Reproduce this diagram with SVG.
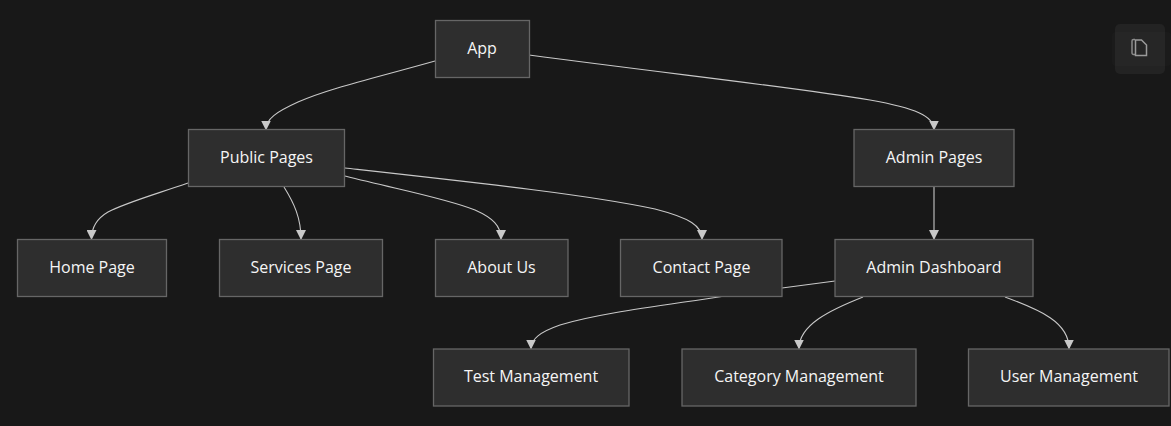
<svg xmlns="http://www.w3.org/2000/svg" width="1171" height="426" viewBox="0 0 1171 426">
<style>
.bg{fill:#181818}
.n rect{fill:#2e2e2e;stroke:#666;stroke-width:1.3}
.n text{fill:#f5f5f5;font-family:"Open Sans","Noto Sans","Liberation Sans",sans-serif;font-size:16px;text-anchor:middle}
#connectors path{fill:none;stroke:#c8c8c8;stroke-width:1.1}
#connectors path.a{marker-end:url(#ah)}
</style>
<defs><marker id="ah" viewBox="0 0 10 10" refX="9" refY="5" markerWidth="10" markerHeight="10" markerUnits="userSpaceOnUse" orient="auto"><path d="M0 0L10 5L0 10Z" fill="#c8c8c8"/></marker></defs>
<rect class="bg" width="1171" height="426"/>
<g id="connectors">
<path class="a" d="M435 61C375 78 330 88 298 102C276 112 266 119 266 129.500"/>
<path class="a" d="M529 55C680 75 800 88 870 100C915 108 934 116 934 129.500"/>
<path class="a" d="M188 183C150 196 125 203 108 212C96 219 91.500 228 91.500 239"/>
<path class="a" d="M284 187C294 203 301 218 301 239"/>
<path class="a" d="M345 176C400 190 445 198 475 210C493 218 501 226 501 239"/>
<path class="a" d="M345 168C480 183 590 195 655 209C690 218 702 226 702 239"/>
<path class="a" d="M934 187V239"/>
<path d="M835 281L782 288"/>
<path class="a" d="M725 296C660 306 600 313 560 325C540 332 531 339 531 348.500"/>
<path class="a" d="M863 297C830 310 799 325 799 348.500"/>
<path class="a" d="M1005 297C1040 310 1069 322 1069 348.500"/>
</g>
<g id="app" class="n"><rect x="435.500" y="20.500" width="94" height="57"/><text x="482" y="54">App</text></g>
<g id="public" class="n"><rect x="188.500" y="129.500" width="156" height="57"/><text x="266.500" y="163">Public Pages</text></g>
<g id="admin" class="n"><rect x="854" y="129.500" width="160" height="57"/><text x="934" y="163">Admin Pages</text></g>
<g id="home" class="n"><rect x="17.500" y="239.500" width="149" height="57"/><text x="92" y="273">Home Page</text></g>
<g id="services" class="n"><rect x="219.500" y="239.500" width="163" height="57"/><text x="301" y="273">Services Page</text></g>
<g id="about" class="n"><rect x="435.500" y="239.500" width="132.500" height="57"/><text x="501.500" y="273">About Us</text></g>
<g id="contact" class="n"><rect x="620.500" y="239.500" width="161.500" height="57"/><text x="701.500" y="273">Contact Page</text></g>
<g id="dashboard" class="n"><rect x="835" y="239.500" width="198" height="57"/><text x="934" y="273">Admin Dashboard</text></g>
<g id="test" class="n"><rect x="433.500" y="349" width="195.500" height="57"/><text x="531" y="382">Test Management</text></g>
<g id="category" class="n"><rect x="682" y="349" width="234" height="57"/><text x="799" y="382">Category Management</text></g>
<g id="user" class="n"><rect x="968.500" y="349" width="200.500" height="57"/><text x="1069" y="382">User Management</text></g>
<g id="copy">
<rect x="1115" y="24" width="50" height="50" rx="5" fill="#232323"/>
<rect x="1112" y="32" width="59" height="34" rx="4" fill="#ffffff" fill-opacity="0.015"/>
<path d="M1135 39.500h-1.500a1.500 1.500 0 0 0-1.500 1.500v12a1.500 1.500 0 0 0 1.500 1.500h1.500" fill="none" stroke="#8a8a8a" stroke-width="1.500"/>
<path d="M1135.500 40h6l5 5v10.500h-11Z" fill="none" stroke="#9a9a9a" stroke-width="1.500"/>
</g>
</svg>
